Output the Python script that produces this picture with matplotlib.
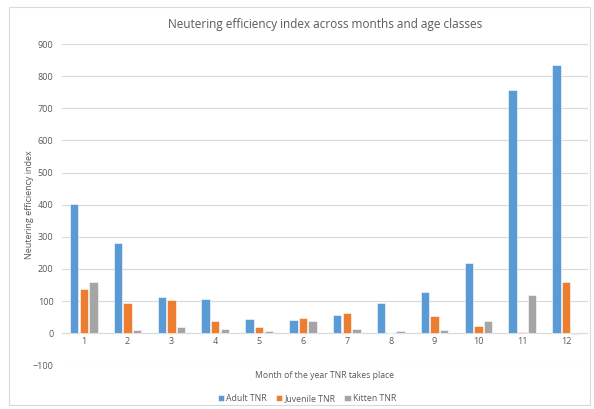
import numpy as np
import matplotlib.pyplot as plt
from matplotlib.patches import Rectangle

months = ["1", "2", "3", "4", "5", "6", "7", "8", "9", "10", "11", "12"]
adult = [401, 282, 112, 107, 43, 42, 58, 94, 129, 219, 758, 835]
juvenile = [138, 95, 104, 38, 19, 46, 63, 1, 54, 23, 4, 160]
kitten = [160, 11, 20, 12, 6, 39, 13, 7, 9, 37, 118, -3]
series_names = ["Adult TNR", "Juvenile TNR", "Kitten TNR"]
yticks = [-100, 0, 100, 200, 300, 400, 500, 600, 700, 800, 900]

colors = ["#5B9BD5", "#ED7D31", "#A5A5A5"]
txt = "#595959"
plt.rcParams['font.family'] = ['Open Sans', 'DejaVu Sans']

fig = plt.figure(figsize=(5.94, 4.09), dpi=100)
# light chart border
fig.patches.append(Rectangle((0.015, 0.01), 0.978, 0.973, transform=fig.transFigure,
                             fill=False, edgecolor="#D9D9D9", linewidth=0.8))
ax = fig.add_axes([0.104, 0.107, 0.886, 0.785])

x = np.arange(len(months))
w = 0.19
off = 0.22
for i, vals in enumerate([adult, juvenile, kitten]):
    ax.bar(x + (i - 1) * off, vals, width=w, color=colors[i], edgecolor="white",
           linewidth=0.4, label=series_names[i], zorder=3)

ax.set_xlim(-0.5, len(months) - 0.5)
ax.set_ylim(-100, 900)
ax.set_yticks(yticks)
ax.yaxis.grid(True, color="#D9D9D9", linewidth=0.8, zorder=0)
ax.axhline(0, color="#D9D9D9", linewidth=0.8, zorder=1)
for s in ax.spines.values():
    s.set_visible(False)
ax.tick_params(length=0, labelsize=6.5, colors=txt)
ax.yaxis.set_tick_params(pad=6)

# month labels sit just under the zero line, not at the bottom of the axes
ax.set_xticks([])
for xi, m in zip(x, months):
    ax.text(xi, -12, m, ha="center", va="top", fontsize=6.5, color=txt)

ax.set_title("Neutering efficiency index across months and age classes",
             fontsize=8.5, color=txt, pad=12)
ax.set_ylabel("Neutering efficiency index", fontsize=6.5, color=txt, labelpad=-1)
fig.text(0.547, 0.081, "Month of the year TNR takes place", ha="center", va="center",
         fontsize=6.2, color=txt)

fig.legend(loc="center", bbox_to_anchor=(0.517, 0.025), ncol=3, frameon=False,
           fontsize=6.3, labelcolor=txt, handlelength=0.7, handleheight=0.7,
           handletextpad=0.3, columnspacing=1.0)

fig.savefig("out.png", dpi=100)
